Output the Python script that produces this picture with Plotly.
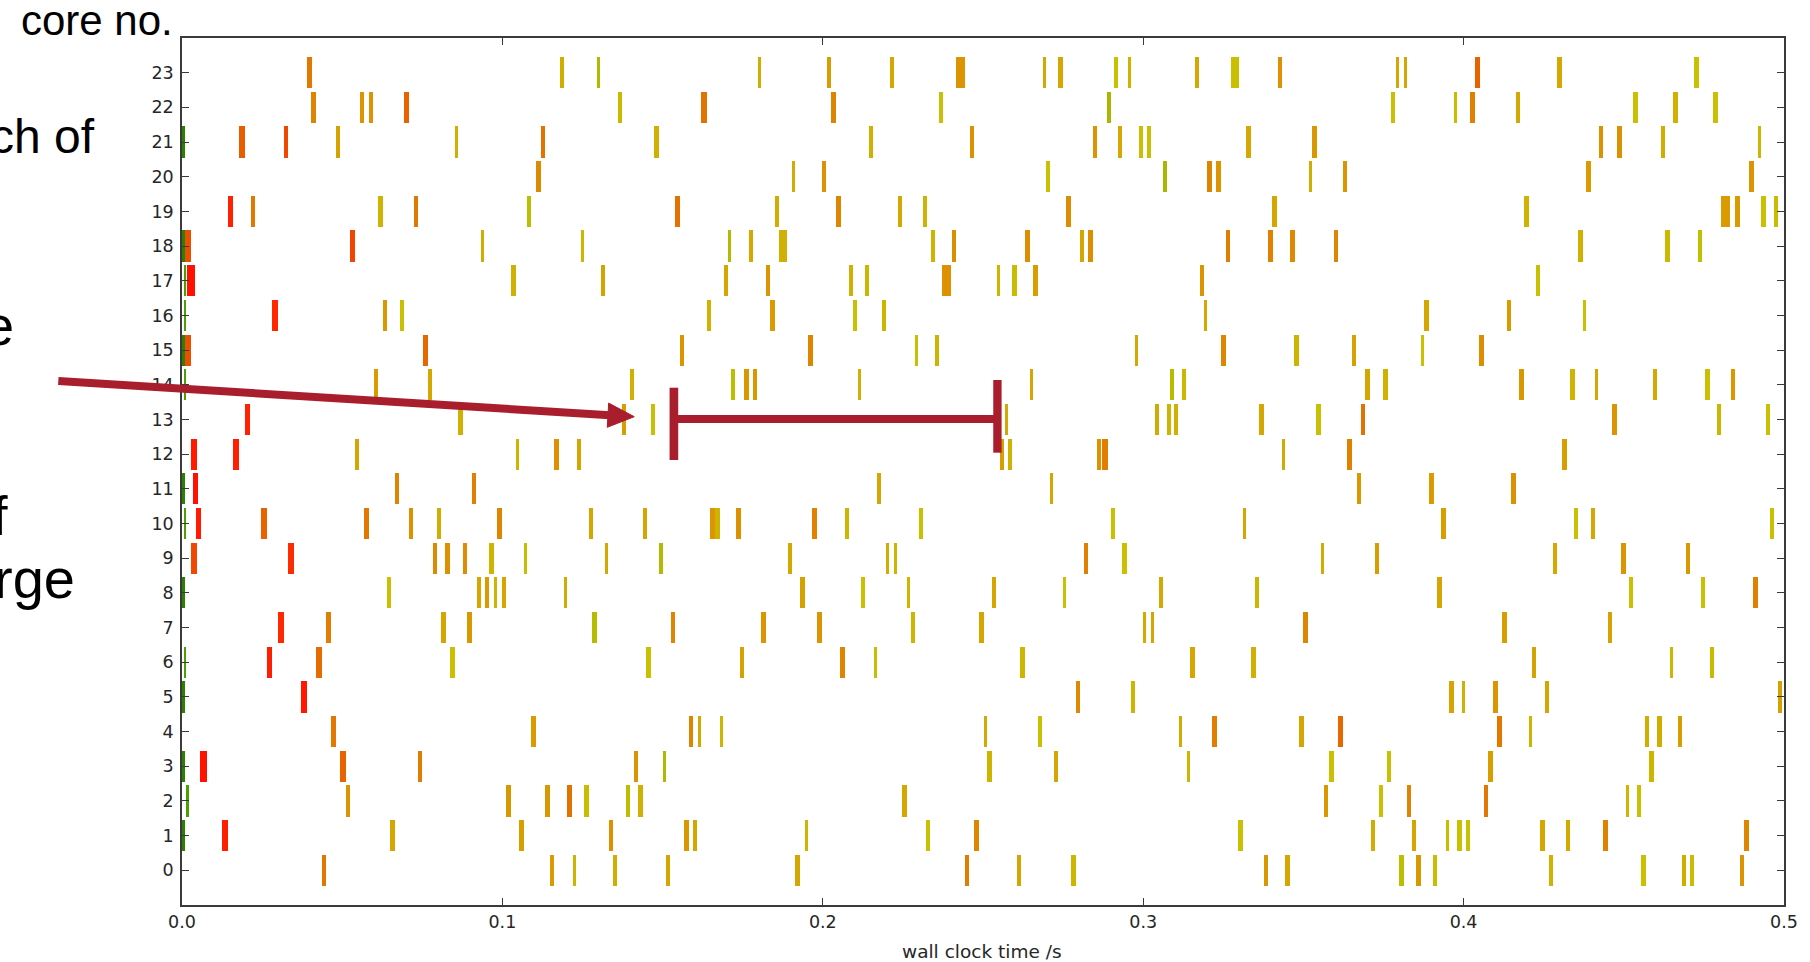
import plotly.graph_objects as go

# ---------------- data ----------------
# per core: centre time of each task [ms], task duration [ms], colour value (0 green .. 1 red)
mid_ms = [
    [44.3, 115.5, 122.5, 135.2, 151.7, 192.1, 245.1, 261.1, 278.2, 338.3, 345.0, 380.6, 385.9, 391.1, 427.2, 456.1, 468.8, 471.3, 486.9],
    [0.5, 13.4, 65.7, 105.9, 133.8, 157.5, 160.2, 194.8, 232.9, 248.0, 330.4, 371.6, 384.5, 395.0, 398.8, 401.4, 424.7, 432.5, 444.3, 488.3],
    [1.7, 51.8, 102.0, 114.1, 121.0, 126.3, 139.1, 143.1, 225.5, 357.1, 374.2, 383.0, 407.0, 451.2, 454.8],
    [0.5, 6.7, 50.2, 74.3, 141.7, 150.5, 252.0, 272.8, 314.1, 358.7, 376.8, 408.4, 458.6],
    [47.2, 109.8, 158.9, 161.6, 168.3, 250.7, 267.7, 311.6, 322.2, 349.4, 361.6, 411.3, 420.8, 457.3, 461.1, 467.5],
    [0.5, 38.1, 279.6, 296.8, 396.3, 400.0, 409.9, 426.0, 498.7],
    [1.0, 27.3, 42.7, 84.4, 145.6, 174.8, 206.2, 216.4, 262.4, 315.4, 334.4, 422.0, 464.8, 477.5],
    [31.0, 45.7, 81.6, 89.8, 128.8, 153.2, 181.5, 199.0, 228.1, 249.5, 300.4, 302.9, 350.7, 412.7, 445.7],
    [0.5, 64.5, 92.7, 95.2, 97.8, 100.5, 119.7, 193.6, 212.6, 226.7, 253.4, 275.4, 305.5, 335.5, 392.4, 452.3, 474.8, 491.2],
    [3.6, 34.1, 79.0, 82.9, 88.3, 96.6, 107.1, 132.6, 149.4, 189.7, 220.3, 222.8, 282.1, 294.2, 356.0, 373.0, 428.5, 450.0, 470.0],
    [1.0, 5.1, 25.5, 57.6, 71.5, 80.2, 99.1, 127.6, 144.4, 165.6, 167.2, 173.6, 197.5, 207.6, 230.6, 290.5, 331.6, 393.8, 435.1, 440.3, 496.2],
    [0.5, 4.3, 67.2, 91.2, 217.5, 271.5, 367.3, 389.9, 415.6],
    [3.6, 16.9, 54.7, 104.7, 117.0, 123.9, 255.9, 258.4, 286.3, 288.0, 343.8, 364.4, 431.4],
    [20.5, 86.9, 137.9, 146.9, 257.3, 304.3, 308.0, 310.2, 336.9, 354.8, 368.6, 447.1, 479.8, 494.9],
    [1.0, 60.5, 77.5, 140.5, 172.0, 176.1, 178.9, 211.4, 265.1, 309.0, 312.7, 370.1, 375.6, 418.1, 433.9, 441.5, 459.8, 476.1, 484.0],
    [0.5, 1.9, 76.0, 156.0, 196.2, 229.3, 235.5, 298.0, 325.0, 347.9, 365.7, 387.2, 405.6],
    [1.0, 29.1, 63.3, 68.6, 164.4, 184.4, 210.1, 219.1, 319.5, 388.4, 414.2, 437.7],
    [1.0, 2.8, 103.4, 131.3, 169.7, 182.9, 208.8, 213.9, 238.7, 254.8, 259.9, 266.4, 318.3, 423.3],
    [0.5, 1.9, 53.2, 93.9, 125.0, 170.9, 177.5, 187.7, 234.3, 240.9, 263.8, 280.9, 283.5, 326.5, 339.8, 346.6, 360.2, 436.5, 463.7, 473.8],
    [15.1, 22.1, 61.9, 73.0, 108.4, 154.6, 185.7, 204.8, 224.0, 231.8, 276.7, 341.1, 419.6, 481.8, 485.4, 493.7, 497.4],
    [111.3, 190.9, 200.4, 270.3, 306.8, 320.7, 323.6, 352.1, 363.0, 438.9, 489.8],
    [0.5, 18.8, 32.5, 48.6, 85.7, 112.7, 148.1, 215.1, 246.6, 285.0, 292.8, 299.3, 301.9, 332.9, 353.4, 442.9, 448.6, 462.3, 492.4],
    [41.1, 56.1, 59.0, 70.1, 136.7, 162.9, 203.3, 236.9, 289.3, 378.0, 397.5, 402.8, 416.9, 453.6, 466.1, 478.7],
    [39.7, 118.5, 130.0, 180.3, 201.9, 221.6, 243.1, 269.1, 274.2, 291.5, 295.6, 316.8, 328.5, 342.6, 379.3, 381.9, 404.2, 429.9, 472.6],
]

dur_ms = [
    [1.45, 1.45, 1.0, 1.35, 1.35, 1.35, 1.35, 1.25, 1.45, 1.45, 1.45, 1.45, 1.45, 1.0, 1.25, 1.45, 1.0, 1.0, 1.45],
    [1.0, 1.85, 1.35, 1.45, 1.35, 1.45, 1.35, 1.0, 1.35, 1.35, 1.35, 1.25, 1.45, 1.0, 1.45, 1.45, 1.45, 1.15, 1.45, 1.45],
    [0.75, 1.45, 1.45, 1.35, 1.75, 1.45, 1.35, 1.35, 1.45, 1.45, 1.15, 1.45, 1.45, 1.0, 1.15],
    [1.0, 2.05, 1.85, 1.35, 1.45, 1.0, 1.45, 1.45, 1.0, 1.45, 1.15, 1.35, 1.35],
    [1.45, 1.45, 1.45, 1.0, 1.0, 1.0, 1.35, 1.0, 1.45, 1.45, 1.45, 1.45, 1.0, 1.15, 1.45, 1.45],
    [1.0, 1.85, 1.45, 1.45, 1.45, 1.15, 1.45, 1.35, 1.35],
    [0.8, 1.85, 1.75, 1.35, 1.35, 1.0, 1.45, 1.0, 1.45, 1.45, 1.45, 1.45, 1.0, 1.25],
    [1.85, 1.45, 1.45, 1.45, 1.45, 1.45, 1.45, 1.45, 1.45, 1.45, 1.15, 1.15, 1.35, 1.45, 1.45],
    [1.0, 1.15, 1.45, 1.35, 1.0, 1.25, 1.15, 1.55, 1.35, 1.0, 1.35, 1.15, 1.15, 1.15, 1.45, 1.15, 1.15, 1.45],
    [1.85, 1.75, 1.35, 1.35, 1.35, 1.35, 1.0, 1.0, 1.15, 1.35, 1.0, 1.0, 1.45, 1.45, 1.0, 1.35, 1.35, 1.45, 1.45],
    [0.8, 1.75, 1.75, 1.45, 1.45, 1.15, 1.45, 1.15, 1.15, 1.45, 1.65, 1.45, 1.45, 1.35, 1.45, 1.15, 1.15, 1.45, 1.15, 1.35, 1.45],
    [1.0, 1.65, 1.35, 1.35, 1.35, 1.0, 1.45, 1.45, 1.45],
    [1.85, 1.85, 1.35, 1.0, 1.55, 1.35, 1.35, 1.35, 1.35, 1.85, 1.15, 1.45, 1.45],
    [1.65, 1.35, 1.15, 1.15, 1.0, 1.35, 1.25, 1.35, 1.45, 1.45, 1.55, 1.45, 1.15, 1.15],
    [0.8, 1.35, 1.35, 1.15, 1.35, 1.45, 1.35, 0.95, 1.0, 1.15, 1.35, 1.45, 1.35, 1.45, 1.45, 1.15, 1.15, 1.35, 1.35],
    [1.0, 1.65, 1.75, 1.45, 1.45, 1.0, 1.25, 1.0, 1.45, 1.45, 1.35, 1.0, 1.45],
    [0.8, 1.75, 1.35, 1.35, 1.15, 1.45, 1.35, 1.35, 1.0, 1.45, 1.35, 1.0],
    [0.8, 2.3, 1.45, 1.35, 1.35, 1.45, 1.15, 1.15, 2.9, 1.15, 1.45, 1.45, 1.45, 1.15],
    [1.0, 1.65, 1.35, 1.0, 1.15, 1.15, 1.35, 2.5, 1.15, 1.45, 1.45, 1.25, 1.45, 1.45, 1.45, 1.45, 1.45, 1.45, 1.45, 1.25],
    [1.75, 1.35, 1.45, 1.45, 1.35, 1.35, 1.35, 1.45, 1.35, 1.15, 1.35, 1.55, 1.45, 3.0, 1.45, 1.45, 1.25],
    [1.45, 1.15, 1.45, 1.45, 1.45, 1.55, 1.45, 1.0, 1.45, 1.45, 1.45],
    [1.0, 1.75, 1.35, 1.35, 1.0, 1.45, 1.35, 1.25, 1.35, 1.45, 1.35, 1.45, 1.25, 1.35, 1.45, 1.45, 1.45, 1.15, 1.15],
    [1.45, 1.35, 1.25, 1.45, 1.35, 1.75, 1.45, 1.0, 1.15, 1.35, 1.0, 1.45, 1.15, 1.45, 1.45, 1.45],
    [1.45, 1.35, 1.0, 0.95, 1.35, 1.45, 2.8, 1.0, 1.35, 1.0, 0.95, 1.25, 2.5, 1.35, 1.0, 1.0, 1.55, 1.45, 1.45],
]

heat = [
    [0.68, 0.52, 0.38, 0.42, 0.46, 0.46, 0.66, 0.46, 0.36, 0.53, 0.46, 0.27, 0.53, 0.32, 0.38, 0.3, 0.42, 0.32, 0.55],
    [0.0, 0.96, 0.46, 0.5, 0.57, 0.53, 0.46, 0.36, 0.3, 0.62, 0.3, 0.42, 0.46, 0.32, 0.3, 0.3, 0.46, 0.44, 0.64, 0.62],
    [0.08, 0.55, 0.53, 0.53, 0.7, 0.32, 0.27, 0.4, 0.46, 0.53, 0.3, 0.63, 0.68, 0.36, 0.3],
    [0.0, 0.99, 0.76, 0.66, 0.55, 0.22, 0.38, 0.46, 0.36, 0.3, 0.3, 0.5, 0.36],
    [0.68, 0.52, 0.62, 0.44, 0.36, 0.44, 0.3, 0.42, 0.66, 0.46, 0.74, 0.68, 0.36, 0.42, 0.42, 0.5],
    [0.0, 0.98, 0.6, 0.36, 0.46, 0.4, 0.55, 0.46, 0.48],
    [0.08, 0.96, 0.72, 0.3, 0.3, 0.48, 0.62, 0.32, 0.36, 0.46, 0.4, 0.47, 0.36, 0.34],
    [0.93, 0.66, 0.46, 0.53, 0.25, 0.62, 0.55, 0.55, 0.36, 0.46, 0.44, 0.46, 0.62, 0.5, 0.48],
    [0.0, 0.3, 0.46, 0.52, 0.36, 0.46, 0.42, 0.48, 0.3, 0.36, 0.46, 0.3, 0.44, 0.36, 0.46, 0.3, 0.3, 0.65],
    [0.85, 0.92, 0.6, 0.57, 0.59, 0.36, 0.32, 0.45, 0.24, 0.45, 0.42, 0.36, 0.65, 0.3, 0.42, 0.5, 0.45, 0.55, 0.53],
    [0.08, 0.97, 0.76, 0.68, 0.57, 0.42, 0.62, 0.46, 0.46, 0.55, 0.38, 0.56, 0.64, 0.36, 0.3, 0.3, 0.46, 0.5, 0.3, 0.45, 0.3],
    [0.0, 1.0, 0.63, 0.65, 0.46, 0.46, 0.54, 0.52, 0.56],
    [0.97, 0.96, 0.46, 0.36, 0.57, 0.46, 0.5, 0.38, 0.57, 0.66, 0.44, 0.64, 0.5],
    [0.95, 0.4, 0.5, 0.3, 0.45, 0.43, 0.36, 0.4, 0.45, 0.3, 0.7, 0.55, 0.36, 0.3],
    [0.08, 0.52, 0.45, 0.4, 0.27, 0.53, 0.53, 0.4, 0.46, 0.25, 0.36, 0.46, 0.4, 0.53, 0.38, 0.45, 0.44, 0.3, 0.54],
    [0.0, 0.83, 0.74, 0.55, 0.62, 0.3, 0.38, 0.45, 0.62, 0.38, 0.48, 0.3, 0.58],
    [0.08, 0.93, 0.53, 0.3, 0.38, 0.52, 0.3, 0.36, 0.45, 0.46, 0.52, 0.3],
    [0.08, 1.0, 0.4, 0.48, 0.46, 0.55, 0.4, 0.36, 0.57, 0.36, 0.32, 0.5, 0.55, 0.3],
    [0.0, 0.83, 0.86, 0.42, 0.36, 0.24, 0.45, 0.4, 0.36, 0.58, 0.58, 0.46, 0.58, 0.66, 0.64, 0.6, 0.62, 0.4, 0.34, 0.28],
    [0.95, 0.68, 0.38, 0.68, 0.27, 0.7, 0.42, 0.62, 0.45, 0.38, 0.58, 0.45, 0.38, 0.52, 0.52, 0.3, 0.32],
    [0.6, 0.42, 0.56, 0.3, 0.2, 0.63, 0.55, 0.42, 0.55, 0.52, 0.55],
    [0.0, 0.78, 0.85, 0.48, 0.4, 0.7, 0.4, 0.4, 0.57, 0.55, 0.45, 0.3, 0.3, 0.45, 0.53, 0.56, 0.56, 0.42, 0.36],
    [0.63, 0.55, 0.55, 0.76, 0.34, 0.7, 0.63, 0.3, 0.2, 0.3, 0.32, 0.65, 0.45, 0.3, 0.4, 0.3],
    [0.68, 0.42, 0.22, 0.42, 0.5, 0.45, 0.55, 0.45, 0.45, 0.3, 0.38, 0.45, 0.3, 0.57, 0.45, 0.45, 0.76, 0.45, 0.3],
]

core_ticks = list(range(24))
x_ticks = [0.0, 0.1, 0.2, 0.3, 0.4, 0.5]
x_tick_text = ["0.0", "0.1", "0.2", "0.3", "0.4", "0.5"]

# ---------------- build flat arrays ----------------
ys, bases, lens, cols = [], [], [], []
for c in range(len(mid_ms)):
    assert len(mid_ms[c]) == len(dur_ms[c]) == len(heat[c]), c
    for m, d, h in zip(mid_ms[c], dur_ms[c], heat[c]):
        ys.append(c)
        bases.append((m - d / 2.0) / 1000.0)
        lens.append(d / 1000.0)
        cols.append(h)

colorscale = [
    [0.00, "#2a8000"],
    [0.08, "#4aa000"],
    [0.20, "#a8b800"],
    [0.27, "#bcbe00"],
    [0.30, "#c8c000"],
    [0.36, "#ccb600"],
    [0.45, "#d4a800"],
    [0.55, "#dc9400"],
    [0.65, "#e08000"],
    [0.74, "#e66800"],
    [0.85, "#f04800"],
    [0.93, "#ff2800"],
    [1.00, "#ff1000"],
]

W, H = 1810, 962
L, R, T, B = 182, 1792, 38, 905


def px(xp):
    return (xp - L) / (R - L)


def py(yp):
    return (B - yp) / (B - T)


fig = go.Figure()
fig.add_trace(go.Bar(
    orientation="h",
    y=ys, x=lens, base=bases, width=0.9,
    marker=dict(color=cols, colorscale=colorscale, cmin=0, cmax=1, line=dict(width=0)),
    showlegend=False, hoverinfo="skip",
))

AX = "#3a3a3a"
tickfont = dict(family="DejaVu Sans", size=17.5, color="#262626")

fig.update_layout(
    width=W, height=H,
    margin=dict(l=L, r=W - R, t=T, b=H - B, pad=0),
    paper_bgcolor="white", plot_bgcolor="white",
    xaxis=dict(range=[0, 0.5], tickvals=x_ticks, ticktext=x_tick_text,
               showgrid=False, zeroline=False, showline=True, linecolor=AX, linewidth=1.6,
               mirror="ticks", ticks="inside", ticklen=7, tickwidth=1, tickcolor=AX,
               tickfont=tickfont, ticklabelstandoff=0),
    yaxis=dict(range=[-1, 24], tickvals=core_ticks,
               showgrid=False, zeroline=False, showline=True, linecolor=AX, linewidth=1.6,
               mirror="ticks", ticks="inside", ticklen=7, tickwidth=1, tickcolor=AX,
               tickfont=tickfont, ticklabelstandoff=3),
    bargap=0,
)

SIDE_FONT = "Liberation Sans, Arial, sans-serif"
ann = []
ann.append(dict(text="wall clock time /s", xref="paper", yref="paper",
                x=px(986), y=py(951), xanchor="center", yanchor="middle", showarrow=False,
                font=dict(family="DejaVu Sans", size=18.5, color="#262626")))
ann.append(dict(text="core no.", xref="paper", yref="paper",
                x=px(18), y=py(20.5), xanchor="left", yanchor="middle", showarrow=False,
                font=dict(family="Liberation Sans", size=42, color="black")))
for txt, xr, ymid, fs in [("ch of", 97, 136.8, 48), ("e", 15, 325.5, 56), ("f", 9, 515.0, 56), ("rge", 76, 578.0, 56)]:
    ann.append(dict(text=txt, xref="paper", yref="paper",
                    x=px(xr), y=py(ymid), xanchor="right", yanchor="middle", showarrow=False,
                    font=dict(family=SIDE_FONT, size=fs, color="black")))
fig.update_layout(annotations=ann)

RED = "#a91e2d"
shapes = []
# arrow shaft and head
shapes.append(dict(type="line", xref="paper", yref="paper",
                   x0=px(57.7), y0=py(381.0), x1=px(612.0), y1=py(415.2),
                   line=dict(color=RED, width=8), layer="above"))
shapes.append(dict(type="path", xref="paper", yref="paper",
                   path=f"M {px(636.5)},{py(416.7)} L {px(609.4)},{py(427.3)} L {px(610.8)},{py(403.1)} Z",
                   fillcolor=RED, line=dict(color=RED, width=1), layer="above"))
# bracket
for (x0, y0, x1, y1) in [(672.0, 387.7, 680.7, 460.0), (997.3, 380.0, 1005.7, 452.7), (676.0, 415.0, 1001.0, 423.0)]:
    shapes.append(dict(type="rect", xref="paper", yref="paper",
                       x0=px(x0), y0=py(y1), x1=px(x1), y1=py(y0),
                       fillcolor=RED, line=dict(width=0), layer="above"))
fig.update_layout(shapes=shapes)

fig.write_html("out.html", config={"displayModeBar": False},
               post_script="document.body.style.margin='0px';document.body.style.overflow='hidden';")
